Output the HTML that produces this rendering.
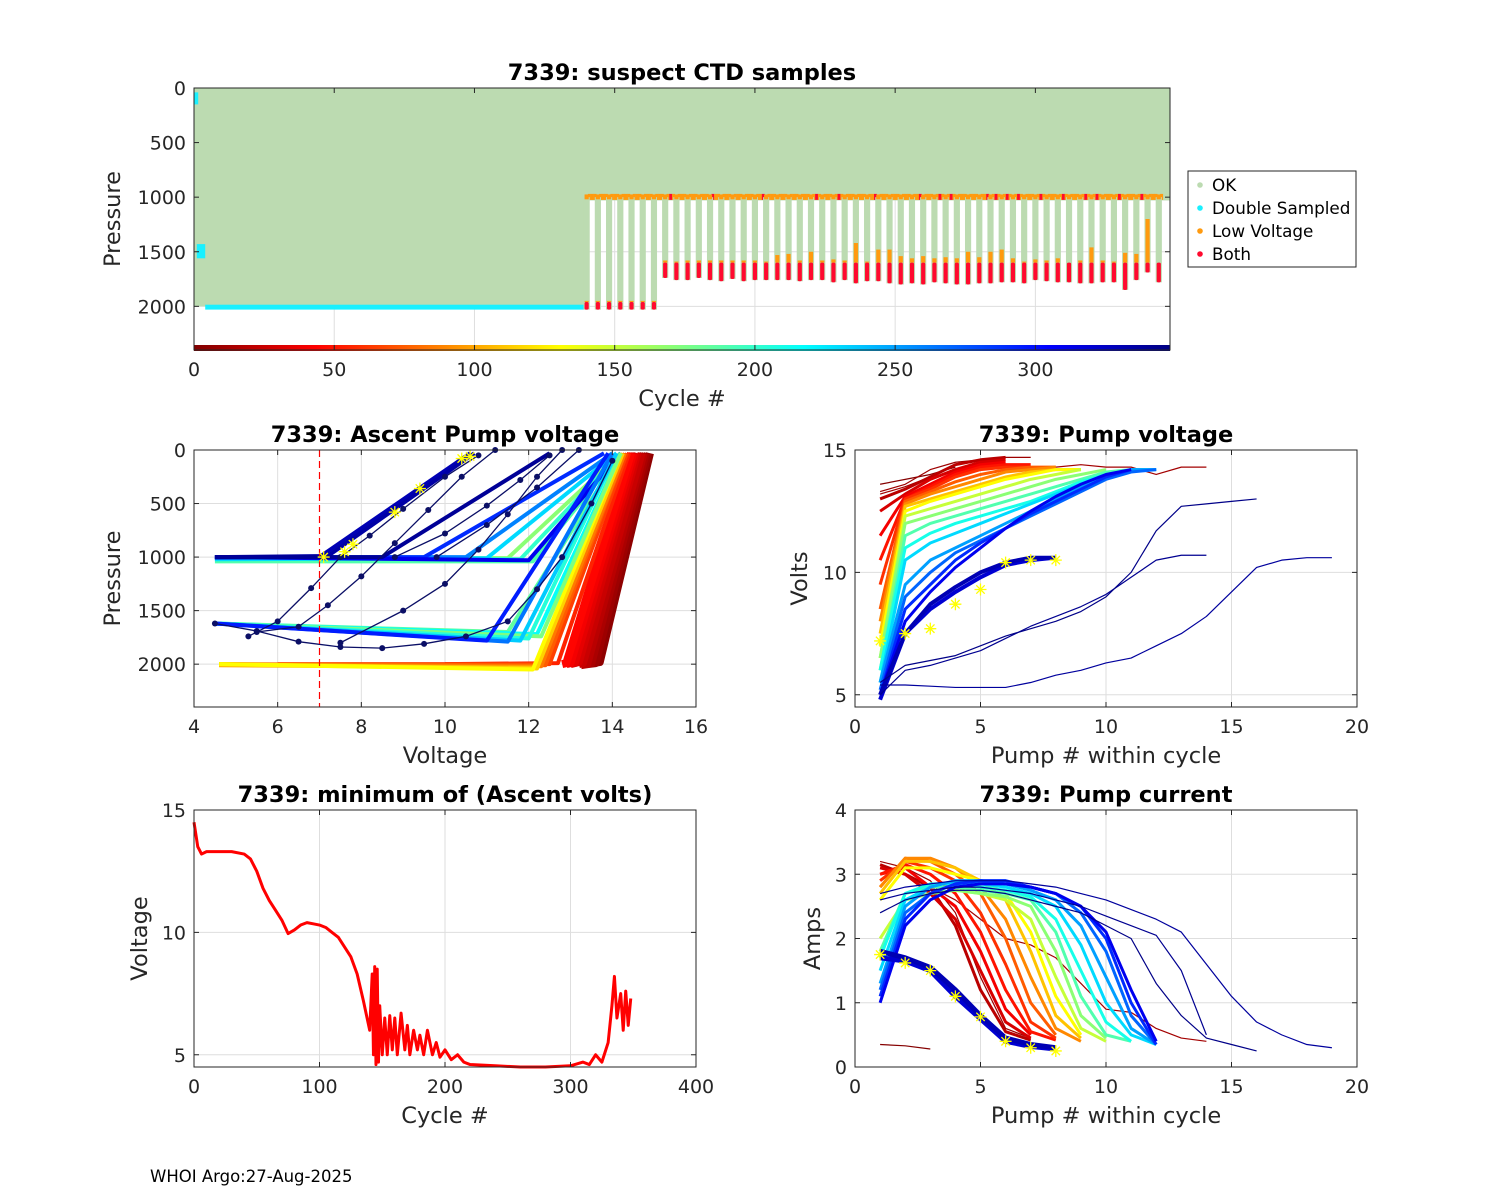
<!DOCTYPE html>
<html><head><meta charset="utf-8"><style>
body{margin:0;background:#fff}
svg{display:block;font-family:"DejaVu Sans","Liberation Sans",sans-serif}
</style></head><body>
<svg id="fig" width="1500" height="1200" viewBox="0 0 1500 1200" xmlns="http://www.w3.org/2000/svg">
<rect width="1500" height="1200" fill="#fff"/>
<text x="150" y="1182" font-size="16.5">WHOI Argo:27-Aug-2025</text>
</svg>
<script>
// ---------- DATA ----------
const okRuns = [[0,140,2000],[140,348,1030]];
const dsRuns = [[0,1.5,40,150],[1,4,1430,1560],[4,140,1985,2030]];
const deepCycles = [140,144,148,152,156,160,164,168,172,176,180,184,188,192,196,200,204,208,212,216,220,224,228,232,236,240,244,248,252,256,260,264,268,272,276,280,284,288,292,296,300,304,308,312,316,320,324,328,332,336,340,344];
const deepBottom = [2030,2030,2030,2030,2030,2030,2030,1740,1760,1760,1740,1760,1770,1750,1770,1760,1760,1760,1760,1770,1760,1760,1780,1760,1790,1770,1770,1790,1800,1790,1800,1780,1790,1800,1800,1790,1790,1780,1780,1790,1760,1770,1780,1780,1790,1790,1780,1780,1850,1760,1690,1780];
const redTop = [1960,1960,1960,1960,1960,1960,1960,1600,1600,1600,1600,1600,1600,1600,1600,1600,1600,1600,1600,1600,1600,1600,1600,1600,1600,1600,1600,1600,1600,1600,1600,1600,1600,1600,1600,1600,1600,1600,1600,1600,1600,1600,1600,1600,1600,1600,1600,1600,1600,1600,1600,1600];
const orangeTop = [1950,1950,1950,1950,1950,1950,1950,1580,1590,1580,1580,1580,1580,1580,1580,1580,1590,1530,1520,1580,1500,1580,1570,1580,1420,1590,1480,1480,1540,1560,1540,1560,1550,1560,1500,1550,1500,1480,1560,1590,1570,1580,1560,1600,1580,1460,1580,1590,1510,1520,1200,1600];
const redShallow = [170,185,203,222,230,243,259,266,270,283,286,290,294,302,310,318,322,330,338];
const mlProfiles = [
 [5,13.5,1990,13.7,1980,14.9],[10,13.4,2000,13.6,1990,14.85],[15,13.3,2000,13.5,1990,14.8],[20,13.25,2010,13.4,2000,14.75],
 [25,13.2,2000,13.3,1990,14.7],[30,13.1,1990,13.2,1980,14.6],[35,13.0,2000,13.1,1990,14.55],[40,12.9,2000,13.0,1990,14.5],
 [45,12.8,2000,12.9,1990,14.45],[55,10,2000,12.7,1990,14.4],[65,6,2000,12.5,2000,14.35],[75,4.6,2000,12.4,2010,14.3],
 [85,4.6,2000,12.3,2020,14.3],[100,4.6,2010,12.2,2030,14.25],[115,4.6,2000,12.2,2040,14.25],[130,4.6,2000,12.1,2050,14.2],
 [190,4.5,1040,12.1,1040,14.2],[170,4.5,1000,11.5,1010,14.2],[200,4.5,1010,11.8,1020,14.2],[230,4.5,1020,11.0,1010,14.1],
 [260,4.5,1000,10.5,1000,14.0],[290,4.5,1005,9.5,1000,13.8],[310,4.5,1000,12,1030,14.2],
 [185,4.5,1620,11.5,1700,14.2],[215,4.5,1620,12.2,1720,14.2],[175,4.5,1620,12.3,1740,14.2],[205,4.5,1620,12.0,1760,14.1],
 [235,4.5,1620,11.8,1780,14.1],[265,4.5,1620,11.5,1790,14.0],[295,4.5,1620,11.0,1780,13.9],
 [330,4.5,1000,7.0,1000,10.6],[335,4.5,1000,7.2,990,10.7],[340,4.5,1000,8.5,1000,12.5]
];
const mlNavyV = [
 [4.5,5.5,6.5,7.5,8.5,9.5,10.5,11.5,12.2,12.8,13.5,14.0],
 [5.3,6.0,6.8,7.5,8.2,9.0,10.0,10.8],
 [5.5,6.5,7.2,8.0,8.8,9.6,10.4,11.2],
 [7.5,9.0,10.0,10.8,11.5,12.2,12.8],
 [8.8,10.0,11.0,11.8,12.5],
 [9.8,11.0,12.2,13.2]
];
const mlNavyP = [
 [1620,1690,1790,1840,1850,1810,1740,1600,1300,1000,500,100],
 [1740,1600,1290,1000,800,550,250,50],
 [1700,1650,1450,1180,870,560,250,0],
 [1800,1500,1250,930,600,250,0],
 [1000,780,520,280,50],
 [1000,700,350,0]
];
const mlStarV = [7.1,7.6,7.8,8.8,9.4,10.4,10.6];
const mlStarP = [1000,950,880,580,360,80,60];
const mlThresh = 7;
const pumpCycles = [2,10,12,20,30,40,50,60,75,90,110,130,150,170,190,210,230,250,270,290,310,320,330,338,342,345];
const pumpVolts = [
 [13.6,13.8,14.0,14.3],
 [13.3,13.6,14.2,14.5,14.6,14.7,14.7],
 [13.2,13.5,13.9,14.1,14.2,14.3,14.3,14.3,14.4,14.3,14.3,14.0,14.3,14.3],
 [13.0,13.4,13.9,14.4,14.6,14.7],
 [12.5,13.2,13.8,14.2,14.5,14.6],
 [11.5,13.1,13.6,14.1,14.4,14.5],
 [10.5,13.0,13.5,14.0,14.3,14.4,14.4],
 [9.5,13.0,13.4,13.9,14.2,14.3,14.3],
 [8.5,12.9,13.3,13.7,14.0,14.2,14.3,14.3],
 [8.0,12.8,13.2,13.5,13.8,14.1,14.2,14.3],
 [7.5,12.7,13.0,13.3,13.6,13.9,14.1,14.2,14.2],
 [7.0,12.5,12.9,13.2,13.5,13.8,14.0,14.2,14.2],
 [6.5,12.3,12.6,12.9,13.2,13.5,13.8,14.0,14.2],
 [6.5,12.0,12.3,12.6,12.9,13.2,13.5,13.8,14.0,14.2],
 [6.0,11.5,12.0,12.3,12.6,12.9,13.2,13.5,13.8,14.1,14.2],
 [6.0,11.0,11.6,12.0,12.3,12.6,12.9,13.3,13.7,14.0,14.2],
 [5.5,10.5,11.2,11.6,12.0,12.4,12.8,13.2,13.6,14.0,14.2,14.2],
 [5.5,9.5,10.5,11.0,11.5,12.0,12.5,13.0,13.5,13.9,14.2,14.2],
 [5.2,9.0,10.0,10.8,11.3,11.8,12.3,12.8,13.3,13.8,14.1,14.2],
 [5.0,8.5,9.5,10.5,11.2,11.8,12.4,12.9,13.4,13.9,14.2],
 [5.0,8.0,9.2,10.2,11.0,11.8,12.5,13.1,13.6,14.0,14.2],
 [4.8,7.5,8.5,9.2,9.8,10.3,10.5,10.6],
 [5.0,7.5,8.7,9.4,10.0,10.4,10.6,10.6],
 [5.4,5.4,5.35,5.3,5.3,5.3,5.5,5.8,6.0,6.3,6.5,7.0,7.5,8.2,9.2,10.2,10.5,10.6,10.6],
 [5.0,6.0,6.2,6.5,6.8,7.3,7.8,8.2,8.6,9.1,9.8,10.5,10.7,10.7],
 [5.5,6.2,6.4,6.6,7.0,7.4,7.7,8.0,8.4,9.0,10.0,11.7,12.7,12.8,12.9,13.0]
];
const pumpAmps = [
 [0.35,0.33,0.28],
 [3.2,3.1,2.9,2.4,1.4,0.6,0.45],
 [3.1,3.0,2.8,2.6,2.3,2.0,1.9,1.7,1.3,0.9,0.85,0.6,0.45,0.4],
 [3.15,3.0,2.8,2.2,1.2,0.55,0.42],
 [3.1,3.0,2.7,2.3,1.5,0.7,0.45],
 [3.0,3.1,2.8,2.5,1.8,0.9,0.5],
 [3.0,3.15,3.0,2.7,2.1,1.2,0.55,0.42],
 [2.9,3.2,3.1,2.9,2.4,1.6,0.7,0.45],
 [2.8,3.25,3.2,3.0,2.7,2.0,1.0,0.5],
 [2.8,3.25,3.25,3.1,2.8,2.3,1.4,0.6,0.4],
 [2.7,3.2,3.2,3.1,2.9,2.6,1.8,0.8,0.45],
 [2.6,3.1,3.1,3.0,2.9,2.7,2.1,1.1,0.5],
 [2.0,2.6,2.7,2.75,2.7,2.6,2.3,1.4,0.6,0.4],
 [1.8,2.6,2.7,2.75,2.7,2.65,2.5,1.8,0.8,0.45],
 [1.8,2.7,2.8,2.8,2.75,2.7,2.6,2.1,1.1,0.5,0.4],
 [1.7,2.7,2.85,2.85,2.8,2.75,2.65,2.3,1.5,0.7,0.4],
 [1.5,2.6,2.8,2.9,2.85,2.8,2.7,2.5,1.9,1.0,0.5,0.35],
 [1.3,2.5,2.8,2.9,2.9,2.85,2.75,2.6,2.2,1.4,0.6,0.35],
 [1.2,2.4,2.7,2.85,2.9,2.85,2.8,2.7,2.4,1.8,0.8,0.35],
 [1.1,2.3,2.7,2.85,2.9,2.9,2.8,2.7,2.5,2.0,1.0,0.35],
 [1.0,2.2,2.6,2.8,2.85,2.85,2.8,2.7,2.5,2.1,1.2,0.4],
 [1.7,1.65,1.5,1.1,0.75,0.4,0.32,0.28],
 [1.8,1.7,1.55,1.2,0.8,0.45,0.35,0.3],
 [2.7,2.8,2.85,2.9,2.9,2.9,2.85,2.8,2.7,2.6,2.45,2.3,2.1,1.6,1.1,0.7,0.5,0.35,0.3],
 [2.6,2.7,2.75,2.8,2.8,2.75,2.7,2.6,2.5,2.35,2.2,2.05,1.5,0.5],
 [2.4,2.6,2.7,2.75,2.75,2.7,2.6,2.5,2.4,2.2,2.0,1.3,0.8,0.45,0.35,0.25]
];
const voltStarX = [1,2,3,4,5,6,7,8];
const voltStarY = [7.2,7.5,7.7,8.7,9.3,10.4,10.5,10.5];
const ampStarX = [1,2,3,4,5,6,7,8];
const ampStarY = [1.75,1.62,1.5,1.1,0.78,0.4,0.3,0.25];
const minCycles = [0,3,6,10,20,30,40,45,50,55,60,65,70,75,80,85,90,95,100,105,110,115,120,125,130,135,140,142,143,144,145,146,147,148,150,152,154,156,158,160,162,165,168,170,172,175,178,180,183,186,190,193,196,200,205,210,215,220,240,260,280,300,310,315,320,325,330,333,335,337,340,342,344,346,348];
const minVolts = [14.5,13.5,13.2,13.3,13.3,13.3,13.2,13.0,12.5,11.8,11.3,10.9,10.5,9.95,10.1,10.3,10.4,10.35,10.3,10.2,10.0,9.8,9.4,9.0,8.3,7.2,6.0,8.3,5.0,8.6,4.6,8.5,4.7,7.0,5.0,6.5,5.0,6.6,5.2,6.5,5.0,6.7,5.2,6.2,5.0,6.0,5.2,5.8,5.0,6.0,5.0,5.5,4.9,5.2,4.8,5.0,4.7,4.6,4.55,4.5,4.5,4.55,4.7,4.6,5.0,4.7,5.5,7.0,8.2,6.5,7.5,6.0,7.6,6.2,7.3];
const topXTicks = [0,50,100,150,200,250,300];
const presTicks = [0,500,1000,1500,2000];
const voltXTicks = [4,6,8,10,12,14,16];
const pumpXTicks = [0,5,10,15,20];
const voltYTicks = [5,10,15];
const cycXTicks = [0,100,200,300,400];
const ampYTicks = [0,1,2,3,4];

// ---------- DRAWING ----------
const NS = 'http://www.w3.org/2000/svg';
const fig = document.getElementById('fig');
function el(tag, attrs, parent){
  const e = document.createElementNS(NS, tag);
  for (const k in attrs) e.setAttribute(k, attrs[k]);
  (parent||fig).appendChild(e);
  return e;
}
function jet(cyc){
  const t = 1 - cyc/348;
  const c = v => Math.round(255*Math.max(0,Math.min(1,v)));
  return `rgb(${c(1.5-Math.abs(4*t-3))},${c(1.5-Math.abs(4*t-2))},${c(1.5-Math.abs(4*t-1))})`;
}
function makeAxes(p){
  p.sx = v => p.x0 + (v-p.xmin)/(p.xmax-p.xmin)*(p.x1-p.x0);
  p.sy = p.yrev ? (v => p.y0 + (v-p.ymin)/(p.ymax-p.ymin)*(p.y1-p.y0))
                : (v => p.y1 - (v-p.ymin)/(p.ymax-p.ymin)*(p.y1-p.y0));
  const g = el('g', {});
  
  
  const bg = el('rect', {x:p.x0,y:p.y0,width:p.x1-p.x0,height:p.y1-p.y0,fill:'#fff'}, g);
  
  
  p.xt.forEach(v=>{
    const x = p.sx(v);
    const gl = el('line',{x1:x,x2:x,y1:p.y0,y2:p.y1,stroke:'#dedede','stroke-width':1}, g);
    
    
    const tl = el('text',{x:x,y:p.y1+26,'font-size':19,'text-anchor':'middle',fill:'#262626'}, g);
    tl.textContent = v;
    
    
  });
  p.yt.forEach(v=>{
    const y = p.sy(v);
    const gl = el('line',{x1:p.x0,x2:p.x1,y1:y,y2:y,stroke:'#dedede','stroke-width':1}, g);
    
    
    const tl = el('text',{x:p.x0-8,y:y+7,'font-size':19,'text-anchor':'end',fill:'#262626'}, g);
    tl.textContent = v;
    
    
  });
  p.marks = el('g', {});
  
  
  const t = el('text',{x:(p.x0+p.x1)/2,y:p.y0-8,'font-size':22.5,'font-weight':'bold','text-anchor':'middle',fill:'#000'});
  t.textContent = p.title;
  
  
  const xl = el('text',{x:(p.x0+p.x1)/2,y:p.y1+56,'font-size':22.5,'text-anchor':'middle',fill:'#262626'});
  xl.textContent = p.xlabel;
  
  
  const yx = p.ylx, yy = (p.y0+p.y1)/2;
  const yl = el('text',{x:yx,y:yy,'font-size':22.5,'text-anchor':'middle',fill:'#262626',transform:`rotate(-90 ${yx} ${yy})`});
  yl.textContent = p.ylabel;
  
  
}
function finishAxes(p){
  const g = el('g', {});
  
  
  p.xt.forEach(v=>{
    const x = p.sx(v);
    el('line',{x1:x,x2:x,y1:p.y1,y2:p.y1-5,stroke:'#262626'}, g);
    el('line',{x1:x,x2:x,y1:p.y0,y2:p.y0+5,stroke:'#262626'}, g);
  });
  p.yt.forEach(v=>{
    const y = p.sy(v);
    el('line',{x1:p.x0,x2:p.x0+5,y1:y,y2:y,stroke:'#262626'}, g);
    el('line',{x1:p.x1,x2:p.x1-5,y1:y,y2:y,stroke:'#262626'}, g);
  });
  const b = el('rect',{x:p.x0,y:p.y0,width:p.x1-p.x0,height:p.y1-p.y0,fill:'none',stroke:'#262626','stroke-width':1}, g);
  
  
}
function star(p, x, y, parent){
  const X=p.sx(x), Y=p.sy(y), r=6;
  const s = el('path',{d:`M${X-r} ${Y}H${X+r}M${X} ${Y-r}V${Y+r}M${X-r*0.7} ${Y-r*0.7}L${X+r*0.7} ${Y+r*0.7}M${X-r*0.7} ${Y+r*0.7}L${X+r*0.7} ${Y-r*0.7}`,stroke:'#ffff00','stroke-width':1.3,fill:'none'}, parent);
  
  
}

// ===== TOP PANEL =====
const TOP = {name:'ctd',x0:194,x1:1170,y0:88,y1:350,xmin:0,xmax:348,ymin:0,ymax:2400,yrev:true,xt:topXTicks,yt:presTicks,title:'7339: suspect CTD samples',xlabel:'Cycle #',ylabel:'Pressure',ylx:120};
makeAxes(TOP);
okRuns.forEach(r=>{
  const e = el('rect',{x:TOP.sx(r[0]),y:TOP.sy(0),width:TOP.sx(r[1])-TOP.sx(r[0])+0.5,height:TOP.sy(r[2])-TOP.sy(0),fill:'#bcdbb1'}, TOP.marks);
  
  
});
dsRuns.forEach(r=>{
  const e = el('rect',{x:TOP.sx(r[0]),y:TOP.sy(r[2]),width:TOP.sx(r[1])-TOP.sx(r[0]),height:TOP.sy(r[3])-TOP.sy(r[2]),fill:'#19f0ff'}, TOP.marks);
  
  
});
for (let c=141;c<346;c++){
  if (deepCycles.includes(c)) continue;
  const red = redShallow.includes(c);
  const e = el('rect',{x:TOP.sx(c)-1.5,y:TOP.sy(970),width:3,height:TOP.sy(1025)-TOP.sy(970),fill:red?'#ff0a2e':'#ff9a0f'}, TOP.marks);
  
  
}
deepCycles.forEach((c,i)=>{
  const w = TOP.sx(2.2)-TOP.sx(0);
  const x = TOP.sx(c)-w/2;
  const g = el('rect',{x:x,y:TOP.sy(1000),width:w,height:TOP.sy(deepBottom[i])-TOP.sy(1000),fill:'#bcdbb1'}, TOP.marks);
  
  
  const o = el('rect',{x:x+1,y:TOP.sy(orangeTop[i]),width:w-2,height:TOP.sy(redTop[i])-TOP.sy(orangeTop[i]),fill:'#ff9a0f'}, TOP.marks);
  
  
  const r = el('rect',{x:x+1,y:TOP.sy(redTop[i]),width:w-2,height:TOP.sy(deepBottom[i])-TOP.sy(redTop[i]),fill:'#ff0a2e',rx:1.5}, TOP.marks);
  
  
  const od = el('rect',{x:x+1,y:TOP.sy(975),width:w-2,height:TOP.sy(1020)-TOP.sy(975),fill:'#ff9a0f'}, TOP.marks);
  
  
});
const defs = el('defs',{});
const lg = el('linearGradient',{id:'jetg',x1:0,x2:1,y1:0,y2:0}, defs);
[0,0.125,0.375,0.5,0.625,0.875,1].forEach(t=>{
  el('stop',{offset:t,'stop-color':jet(t*348)}, lg);
});
const strip = el('rect',{x:TOP.x0,y:345,width:TOP.x1-TOP.x0,height:6,fill:'url(#jetg)'}, TOP.marks);


finishAxes(TOP);
const leg = el('g',{});


el('rect',{x:1188,y:171,width:168,height:96,fill:'#fff',stroke:'#262626'}, leg);
[['OK','#bcdbb1'],['Double Sampled','#19f0ff'],['Low Voltage','#ff9a0f'],['Both','#ff0a2e']].forEach((d,i)=>{
  const y = 185 + i*23;
  const dot = el('circle',{cx:1200,cy:y,r:2.8,fill:d[1]}, leg);
  
  
  const t = el('text',{x:1212,y:y+6,'font-size':16.8,fill:'#000'}, leg);
  t.textContent = d[0];
  
  
});

// ===== MIDDLE LEFT =====
const ML = {name:'ascent-pump',x0:194,x1:696,y0:450,y1:707,xmin:4,xmax:16,ymin:0,ymax:2400,yrev:true,xt:voltXTicks,yt:presTicks,title:'7339: Ascent Pump voltage',xlabel:'Voltage',ylabel:'Pressure',ylx:120};
makeAxes(ML);
mlProfiles.forEach(r=>{
  const pts = [[r[1],r[2]],[r[3],r[4]],[r[5],30]].map(q=>ML.sx(q[0])+','+ML.sy(q[1])).join(' ');
  const e = el('polyline',{points:pts,fill:'none',stroke:jet(r[0]),'stroke-width':r[0]<50?8:4,'stroke-linejoin':'round'}, ML.marks);
  
  
});
mlNavyV.forEach((vs,i)=>{
  const ps = mlNavyP[i];
  const pts = vs.map((v,j)=>ML.sx(v)+','+ML.sy(ps[j])).join(' ');
  const e = el('polyline',{points:pts,fill:'none',stroke:'#0b0f66','stroke-width':1.3}, ML.marks);
  
  
  vs.forEach((v,j)=>{
    const d = el('circle',{cx:ML.sx(v),cy:ML.sy(ps[j]),r:3,fill:'#0b0f66'}, ML.marks);
    
    
  });
});
const th = el('line',{x1:ML.sx(mlThresh),x2:ML.sx(mlThresh),y1:ML.y0,y2:ML.y1,stroke:'#ff0000','stroke-width':1.2,'stroke-dasharray':'7,4'}, ML.marks);


mlStarV.forEach((v,i)=>star(ML, v, mlStarP[i], ML.marks));
finishAxes(ML);

// ===== MIDDLE RIGHT & BOTTOM RIGHT =====
const MR = {name:'pump-voltage',x0:855,x1:1357,y0:450,y1:707,xmin:0,xmax:20,ymin:4.5,ymax:15,yrev:false,xt:pumpXTicks,yt:voltYTicks,title:'7339: Pump voltage',xlabel:'Pump # within cycle',ylabel:'Volts',ylx:807};
makeAxes(MR);
const BR = {name:'pump-current',x0:855,x1:1357,y0:810,y1:1067,xmin:0,xmax:20,ymin:0,ymax:4,yrev:false,xt:pumpXTicks,yt:ampYTicks,title:'7339: Pump current',xlabel:'Pump # within cycle',ylabel:'Amps',ylx:820};
makeAxes(BR);
pumpCycles.forEach((c,i)=>{
  const late = c>=320;
  const w = late ? 1.2 : (c<=12 ? 1.2 : 3);
  const pv = pumpVolts[i].map((v,j)=>MR.sx(j+1)+','+MR.sy(v)).join(' ');
  const e1 = el('polyline',{points:pv,fill:'none',stroke:jet(c),'stroke-width':(c===320||c===330)?4:w,'stroke-linejoin':'round'}, MR.marks);
  
  
  const pa = pumpAmps[i].map((v,j)=>BR.sx(j+1)+','+BR.sy(v)).join(' ');
  const e2 = el('polyline',{points:pa,fill:'none',stroke:jet(c),'stroke-width':(c===320||c===330)?5:w,'stroke-linejoin':'round'}, BR.marks);
  
  
});
voltStarX.forEach((x,i)=>star(MR, x, voltStarY[i], MR.marks));
ampStarX.forEach((x,i)=>star(BR, x, ampStarY[i], BR.marks));
finishAxes(MR);
finishAxes(BR);

// ===== BOTTOM LEFT =====
const BL = {name:'min-voltage',x0:194,x1:696,y0:810,y1:1067,xmin:0,xmax:400,ymin:4.5,ymax:15,yrev:false,xt:cycXTicks,yt:voltYTicks,title:'7339: minimum of (Ascent volts)',xlabel:'Cycle #',ylabel:'Voltage',ylx:147};
makeAxes(BL);
const mv = minCycles.map((c,i)=>BL.sx(c)+','+BL.sy(minVolts[i])).join(' ');
const mline = el('polyline',{points:mv,fill:'none',stroke:'#ff0000','stroke-width':3,'stroke-linejoin':'round'}, BL.marks);


finishAxes(BL);
</script>
</body></html>
